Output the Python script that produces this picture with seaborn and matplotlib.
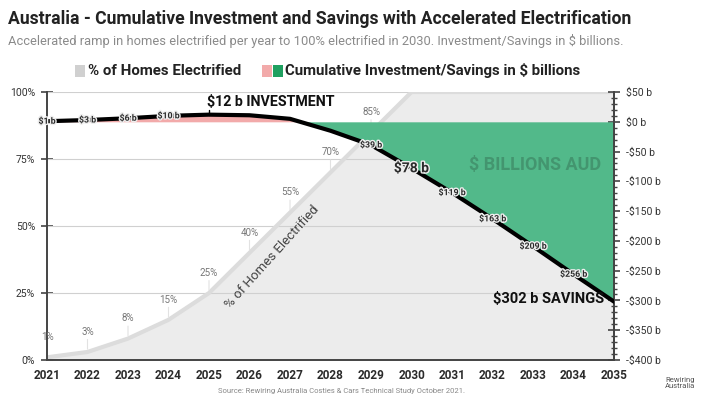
import numpy as np
import pandas as pd
import matplotlib
matplotlib.use("Agg")
import matplotlib.pyplot as plt
import matplotlib.patheffects as pe
from matplotlib.ticker import MultipleLocator, FuncFormatter
from matplotlib.patches import Rectangle
import seaborn as sns

# dados
anos = [2021, 2022, 2023, 2024, 2025, 2026, 2027, 2028, 2029, 2030, 2031, 2032, 2033, 2034, 2035]
pct_casas = [1, 3, 8, 15, 25, 40, 55, 70, 85, 100, 100, 100, 100, 100, 100]
investimento = [1, 3, 6, 10, 12, 11, 5, -15, -39, -78, -119, -163, -209, -256, -302]
rotulos_inv = {2021: "$1 b", 2022: "$3 b", 2023: "$6 b", 2024: "$10 b",
               2029: "$39 b", 2031: "$119 b", 2032: "$163 b", 2033: "$209 b", 2034: "$256 b"}

df = pd.DataFrame({"ano": anos, "pct": pct_casas, "inv": investimento})

# cores
cinza = "#ececec"
cinza_borda = "#dcdcdc"
verde = "#52b98a"
rosa = "#f2aaaa"
escuro = "#2b2b2b"

sns.set_theme(style="white")
plt.rcParams["font.family"] = ["Roboto", "DejaVu Sans"]

fig = plt.figure(figsize=(7.11, 3.95), dpi=100)
ax = fig.add_axes([0.0661, 0.0886, 0.7975, 0.6784])
ax2 = ax.twinx()

# area % de casas eletrificadas
ax.fill_between(df["ano"], 0, df["pct"], color=cinza, lw=0, zorder=1)
sns.lineplot(data=df, x="ano", y="pct", ax=ax, color=cinza_borda, lw=3, zorder=2)
for y in [25, 50, 75, 100]:
    ax.axhline(y, color="#d0d0d0", lw=0.8, zorder=1.5)

for a, p in zip(anos, pct_casas):
    if p >= 100:
        continue
    ax.annotate(f"{p}%", xy=(a, p), xytext=(0, 11), textcoords="offset points",
                ha="center", va="bottom", fontsize=7, color="#777777", zorder=3)
    ax.annotate("", xy=(a, p), xytext=(0, 11), textcoords="offset points",
                arrowprops=dict(arrowstyle="-", color="#e2e2e2", lw=0.8), zorder=2)

ax.text(2026.55, 38.5, "% of Homes Electrified", rotation=48, ha="center", va="center",
        fontsize=9.5, color="#444444", rotation_mode="anchor", zorder=3)

ax.set_xlim(2021, 2035)
ax.set_ylim(0, 100)
ax.set_xticks(anos)
ax.set_xticklabels([str(a) for a in anos], fontsize=8.5, fontweight="bold", color=escuro)
ax.set_yticks([0, 25, 50, 75, 100])
ax.yaxis.set_major_formatter(FuncFormatter(lambda v, _: f"{int(v)}%"))
ax.tick_params(axis="x", direction="inout", length=9, width=1.2, color="#444444", pad=2)
ax.tick_params(axis="y", direction="inout", length=9, width=1.2, color="#444444",
               labelsize=7.5, labelcolor="#333333", pad=4)
ax.set_xlabel("")
ax.set_ylabel("")

# investimento / economia acumulada
x = np.array(anos, dtype=float)
v = np.array(investimento, dtype=float)
ax2.fill_between(x, 0, v, where=v >= 0, interpolate=True, color=rosa, lw=0, zorder=1)
ax2.fill_between(x, 0, v, where=v <= 0, interpolate=True, color=verde, lw=0, zorder=1)
sns.lineplot(data=df, x="ano", y="inv", ax=ax2, color="black", lw=3, zorder=3)
ax2.set_ylim(-400, 50)
ax2.set_yticks(range(-400, 51, 50))
ax2.yaxis.set_minor_locator(MultipleLocator(10))
ax2.yaxis.set_major_formatter(FuncFormatter(lambda v, _: f"-${abs(int(v))} b" if v < 0 else f"${int(v)} b"))
ax2.tick_params(axis="y", which="major", direction="inout", length=9, width=1.2,
                color="#444444", labelsize=7.5, labelcolor="#333333", pad=4)
ax2.tick_params(axis="y", which="minor", direction="inout", length=5, width=1, color="#444444")
ax2.set_ylabel("")

halo = [pe.withStroke(linewidth=2, foreground="#eeeeee")]
for a, t in rotulos_inv.items():
    val = investimento[anos.index(a)]
    ax2.text(a, val, t, ha="center", va="center", fontsize=6.3, fontweight="bold",
             color=escuro, path_effects=halo, zorder=4)
ax2.text(2030, investimento[anos.index(2030)], "$78 b", ha="center", va="center",
         fontsize=10, fontweight="bold", color=escuro, path_effects=halo, zorder=4)
ax2.plot([2025, 2025], [12, 20], color="black", lw=1, zorder=3)
ax2.text(2024.95, 22, "$12 b INVESTMENT", ha="left", va="bottom", fontsize=10.3,
         fontweight="bold", color="#111111", zorder=4)
ax2.text(2034.75, -297, "$302 b SAVINGS", ha="right", va="center", fontsize=10.5,
         fontweight="bold", color="#111111", zorder=4)
ax2.text(2033.05, -72, "$ BILLIONS AUD", ha="center", va="center", fontsize=13,
         fontweight="bold", color="#3f8a66", alpha=0.75, zorder=2)

for a_ in (ax, ax2):
    a_.spines["top"].set_visible(False)
    for s in ["left", "right", "bottom"]:
        a_.spines[s].set_color("#444444")
        a_.spines[s].set_linewidth(1.4)
ax2.spines["left"].set_visible(False)
ax2.spines["bottom"].set_visible(False)

# titulo e legenda
fig.text(0.011, 0.953, "Australia - Cumulative Investment and Savings with Accelerated Electrification",
         fontsize=12.7, fontweight="bold", color="#222222", va="center")
fig.text(0.011, 0.896, "Accelerated ramp in homes electrified per year to 100% electrified in 2030. Investment/Savings in $ billions.",
         fontsize=9.3, color="#8a8a8a", va="center")

fig.patches.append(Rectangle((75 / 711, 1 - 77 / 395), 10 / 711, 12 / 395, transform=fig.transFigure,
                             color="#d0d0d0", lw=0))
fig.text(88 / 711, 1 - 71 / 395, "% of Homes Electrified", fontsize=10.8, fontweight="bold",
         color="#222222", va="center")
fig.patches.append(Rectangle((262 / 711, 1 - 77 / 395), 10 / 711, 12 / 395, transform=fig.transFigure,
                             color=rosa, lw=0))
fig.patches.append(Rectangle((273 / 711, 1 - 77 / 395), 10 / 711, 12 / 395, transform=fig.transFigure,
                             color="#1fa060", lw=0))
fig.text(285 / 711, 1 - 71 / 395, "Cumulative Investment/Savings in $ billions", fontsize=10.8,
         fontweight="bold", color="#222222", va="center")

fig.text(341 / 711, 1 - 391 / 395, "Source: Rewiring Australia Costies & Cars Technical Study October 2021.",
         fontsize=5.5, color="#888888", ha="center", va="center")
fig.text(680 / 711, 1 - 383 / 395, "Rewiring\nAustralia", fontsize=5.5, color="#555555",
         ha="center", va="center", linespacing=0.9)

fig.savefig("out.png", dpi=100, facecolor="white")
